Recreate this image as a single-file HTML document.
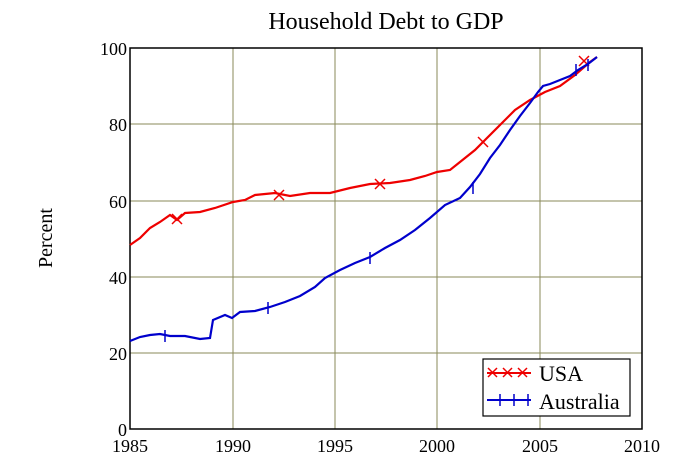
<!DOCTYPE html>
<html><head><meta charset="utf-8"><style>body{margin:0;background:#fff}svg{display:block}</style></head>
<body>
<svg width="692" height="464" xmlns="http://www.w3.org/2000/svg" font-family="Liberation Serif, serif">
<rect width="692" height="464" fill="#fff"/>
<text x="386" y="29" font-size="24" text-anchor="middle">Household Debt to GDP</text>
<text transform="translate(52,238) rotate(-90)" font-size="20" text-anchor="middle">Percent</text>
<g stroke="#8a8a5a" stroke-width="1">
<line x1="233" y1="48" x2="233" y2="429"/><line x1="335" y1="48" x2="335" y2="429"/>
<line x1="437" y1="48" x2="437" y2="429"/><line x1="540" y1="48" x2="540" y2="429"/>
<line x1="130" y1="124" x2="642" y2="124"/><line x1="130" y1="201" x2="642" y2="201"/>
<line x1="130" y1="277" x2="642" y2="277"/><line x1="130" y1="353" x2="642" y2="353"/>
</g>
<rect x="130" y="48" width="512" height="381" fill="none" stroke="#000" stroke-width="1.5"/>
<g font-size="18" text-anchor="end">
<text x="127" y="55">100</text><text x="127" y="131">80</text><text x="127" y="208">60</text>
<text x="127" y="284">40</text><text x="127" y="360">20</text><text x="127" y="436">0</text>
</g>
<g font-size="18" text-anchor="middle">
<text x="130" y="452">1985</text><text x="233" y="452">1990</text><text x="335" y="452">1995</text>
<text x="437" y="452">2000</text><text x="540" y="452">2005</text><text x="642" y="452">2010</text>
</g>
<polyline fill="none" stroke="#e00" stroke-width="2.2" points="130,245 140,238 150,228 160,222 170,215 177,220 185,213 200,212 215,208 233,202 245,200 255,195 275,193 290,196 310,193 330,193 350,188 370,184 390,183 410,180 425,176 437,172 450,170 460,162 475,150 485,140 500,125 515,110 530,100 545,92 560,86 575,75 590,62 597,57"/>
<g stroke="#e00" stroke-width="1.5">
<path d="M172,214l10,10M182,214l-10,10M274,190l10,10M284,190l-10,10M375,179l10,10M385,179l-10,10M478,137l10,10M488,137l-10,10M579,56l10,10M589,56l-10,10"/>
</g>
<polyline fill="none" stroke="#00c" stroke-width="2.2" points="130,341 140,337 150,335 160,334 170,336 185,336 200,339 210,338 213,320 225,315 232,318 240,312 255,311 270,307 285,302 300,296 315,287 325,278 340,270 355,263 370,257 385,248 400,240 415,230 430,218 445,205 460,198 470,187 480,174 490,158 500,145 510,130 520,116 530,103 538,92 543,86 550,84 560,80 570,76 578,70 588,64 597,57"/>
<g stroke="#00c" stroke-width="1.5">
<path d="M165,330v12M268,302v12M370,252v12M473,182v12M576,64v12M588,59v12"/>
</g>
<rect x="483" y="359" width="147" height="57" fill="#fff" stroke="#000" stroke-width="1.2"/>
<line x1="487" y1="373" x2="531" y2="373" stroke="#e00" stroke-width="2"/>
<path d="M488,368l9,9M497,368l-9,9M503,368l9,9M512,368l-9,9M518,368l9,9M527,368l-9,9" stroke="#e00" stroke-width="1.5"/>
<line x1="487" y1="400" x2="531" y2="400" stroke="#00c" stroke-width="2"/>
<path d="M500,394v12M514,394v12M528,394v12" stroke="#00c" stroke-width="1.5"/>
<text x="539" y="381" font-size="22">USA</text>
<text x="539" y="409" font-size="22">Australia</text>
</svg>
</body></html>
